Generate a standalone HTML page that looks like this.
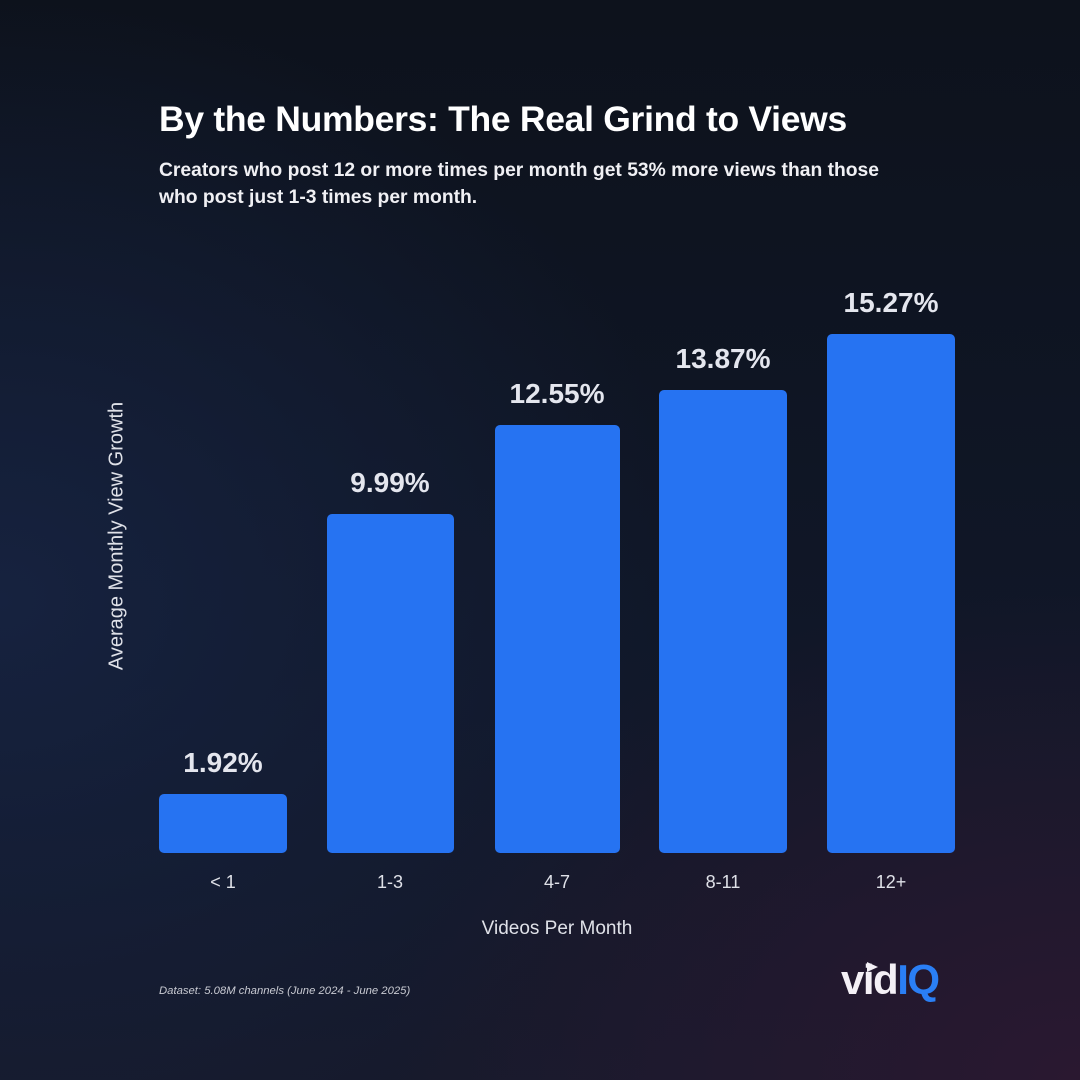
<!DOCTYPE html>
<html><head><meta charset="utf-8"><style>
body{margin:0}
#c{position:relative;width:1080px;height:1080px;overflow:hidden;font-family:"Liberation Sans",sans-serif;color:#fff;
background:radial-gradient(ellipse 700px 600px at 0px 600px,#16223f 0%,rgba(22,34,63,0) 100%),radial-gradient(ellipse 700px 500px at 1080px 1080px,#2a1830 0%,rgba(42,24,48,0) 100%),linear-gradient(180deg,#0d121c 0%,#101728 60%,#161a2c 100%)}
.t{position:absolute;left:159px;top:99px;font-size:35.5px;font-weight:bold;letter-spacing:-0.3px}
.s{position:absolute;left:159px;top:157px;font-size:19.3px;font-weight:bold;line-height:27px;color:#f0f0f4}
.b{position:absolute;background:#2673f2;border-radius:5px}
.v{position:absolute;font-size:28px;font-weight:bold;color:#e4e6ee;text-align:center;width:200px}
.x{position:absolute;top:872px;font-size:18px;color:#dfe1e8;text-align:center;width:200px}
</style></head><body><div id="c">
<div class="t">By the Numbers: The Real Grind to Views</div>
<div class="s">Creators who post 12 or more times per month get 53% more views than those<br>who post just 1-3 times per month.</div>
<div style="position:absolute;left:117px;top:536px;transform:translate(-50%,-50%) rotate(-90deg);font-size:20px;color:#dfe1e8;white-space:nowrap">Average Monthly View Growth</div>
<div class="b" style="left:159px;top:794px;width:128px;height:59px"></div>
<div class="b" style="left:327px;top:514px;width:127px;height:339px"></div>
<div class="b" style="left:495px;top:425px;width:125px;height:428px"></div>
<div class="b" style="left:659px;top:390px;width:128px;height:463px"></div>
<div class="b" style="left:827px;top:334px;width:128px;height:519px"></div>
<div class="v" style="left:123px;top:747px">1.92%</div>
<div class="v" style="left:290px;top:467px">9.99%</div>
<div class="v" style="left:457px;top:378px">12.55%</div>
<div class="v" style="left:623px;top:343px">13.87%</div>
<div class="v" style="left:791px;top:287px">15.27%</div>
<div class="x" style="left:123px">&lt; 1</div>
<div class="x" style="left:290px">1-3</div>
<div class="x" style="left:457px">4-7</div>
<div class="x" style="left:623px">8-11</div>
<div class="x" style="left:791px">12+</div>
<div style="position:absolute;left:0;width:1114px;text-align:center;top:918px;font-size:19px;color:#dfe1e8">Videos Per Month</div>
<div style="position:absolute;left:159px;top:985px;font-size:11.3px;font-style:italic;color:#c8cad2">Dataset: 5.08M channels (June 2024 - June 2025)</div>
<div style="position:absolute;left:841px;top:956px;font-size:42px;font-weight:900;letter-spacing:-1.5px;line-height:48px"><span style="color:#f4f0f6">vid</span><span style="color:#2a7ff5">IQ</span></div>
<div style="position:absolute;left:867px;top:962px;width:0;height:0;border-left:11px solid #f4f0f6;border-top:5px solid transparent;border-bottom:5px solid transparent"></div>
</div></body></html>
